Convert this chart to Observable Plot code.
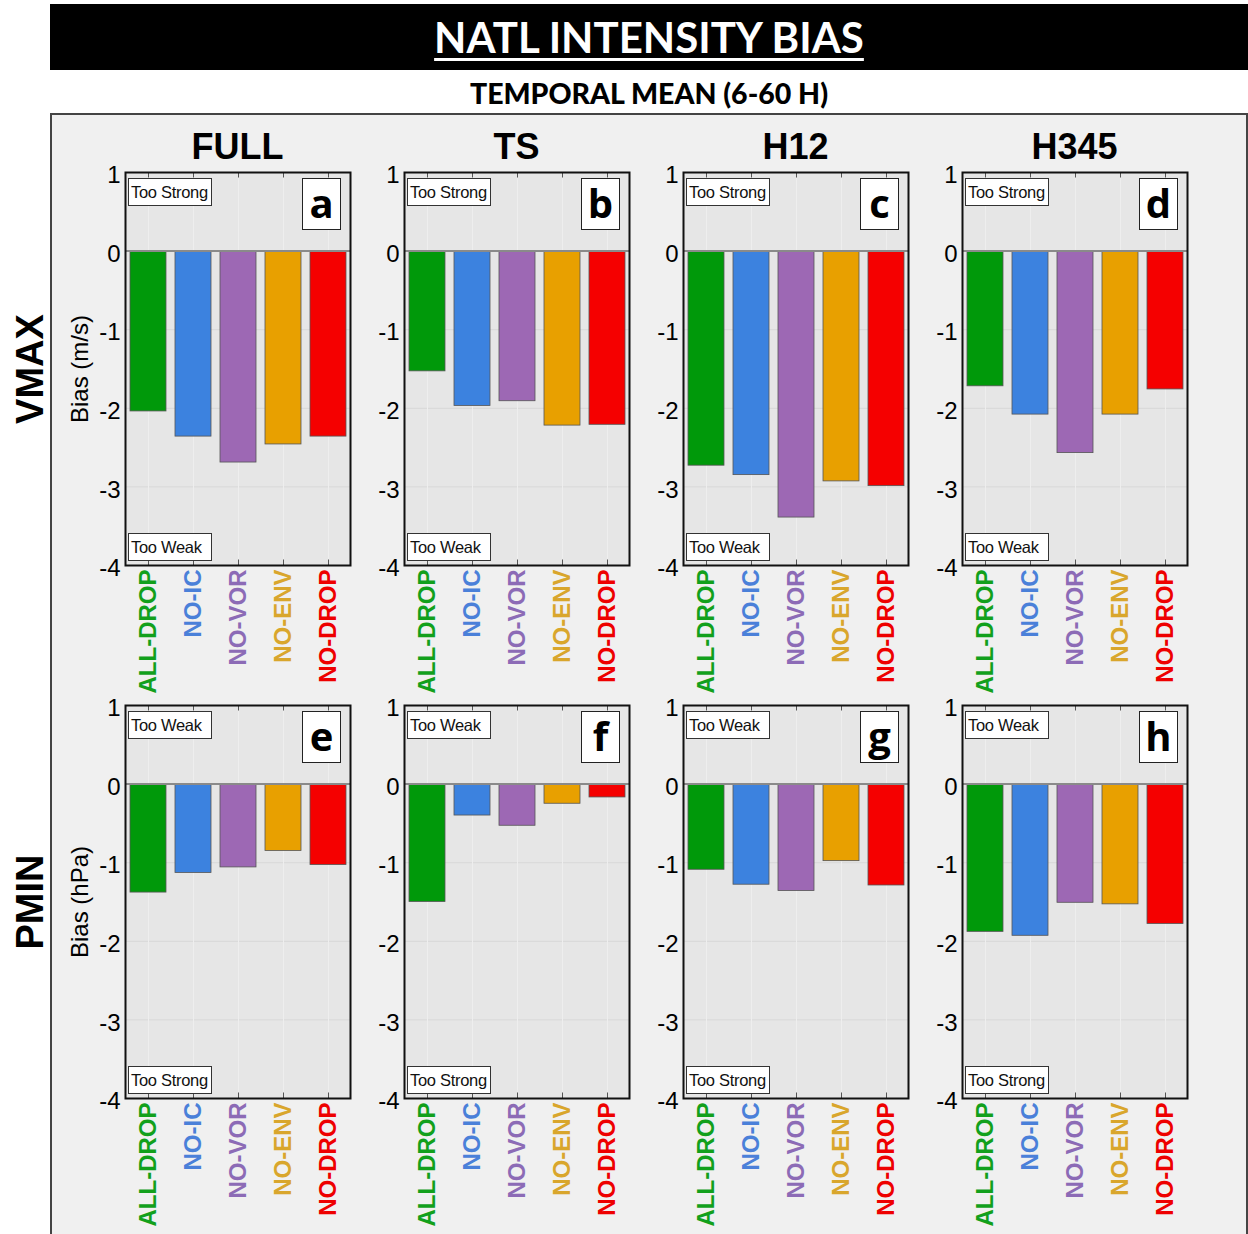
<!DOCTYPE html>
<html>
<head>
<meta charset="utf-8">
<script src="https://cdn.jsdelivr.net/npm/d3@7"></script>
<script src="https://cdn.jsdelivr.net/npm/@observablehq/plot@0.6"></script>
<style>
  body { margin:0; width:1248px; height:1234px; position:relative; overflow:hidden; background:#fff; font-family:"Liberation Sans", Arial, sans-serif; }
  #titlebar { position:absolute; left:50px; top:4px; width:1198px; height:66px; background:#000; color:#fff; text-align:center; font-family:Lato, "Open Sans", sans-serif; font-weight:bold; font-size:42px; line-height:66px; }
  #titlebar span { text-decoration:underline; text-decoration-thickness:3px; text-underline-offset:5px; }
  #subtitle { position:absolute; left:50px; width:1198px; top:76px; height:34px; text-align:center; font-family:Lato, "Open Sans", sans-serif; font-weight:900; font-size:28.5px; line-height:34px; color:#000; }
  #box { position:absolute; left:50px; top:113px; width:1194px; height:1140px; border:2px solid #444; background:#f0f0f0; }
  .colhead { position:absolute; width:220px; height:44px; line-height:44px; text-align:center; font-weight:bold; font-size:36px; color:#000; }
  .rowhead { position:absolute; width:300px; height:50px; line-height:50px; text-align:center; font-weight:bold; font-size:38px; color:#000; transform:rotate(-90deg); transform-origin:center center; }
  .panel { position:absolute; }
  .note { position:absolute; width:80px; height:26px; border:1.5px solid #333; background:#fff; font-size:16.5px; line-height:27px; padding-left:2px; color:#111; white-space:nowrap; overflow:hidden; letter-spacing:-0.3px; }
  .letter { position:absolute; width:37px; height:50px; border:1.5px solid #222; background:#fff; font-family:"Open Sans", Lato, sans-serif; font-weight:bold; font-size:40px; line-height:48px; text-align:center; color:#000; }
</style>
</head>
<body>
<div id="titlebar"><span>NATL INTENSITY BIAS</span></div>
<div id="subtitle">TEMPORAL MEAN (6-60 H)</div>
<div id="box"></div>
<script>
// ---------- data ----------
const columns = ["FULL", "TS", "H12", "H345"];
const rows = ["VMAX", "PMIN"];
const categories = ["ALL-DROP", "NO-IC", "NO-VOR", "NO-ENV", "NO-DROP"];
// VMAX bias (m/s) per column: FULL, TS, H12, H345
const vmaxFULL = [-2.04, -2.36, -2.69, -2.46, -2.36];
const vmaxTS   = [-1.53, -1.97, -1.91, -2.22, -2.21];
const vmaxH12  = [-2.73, -2.85, -3.39, -2.93, -2.99];
const vmaxH345 = [-1.72, -2.08, -2.57, -2.08, -1.76];
// PMIN bias (hPa) per column
const pminFULL = [-1.38, -1.13, -1.06, -0.85, -1.03];
const pminTS   = [-1.50, -0.40, -0.53, -0.25, -0.17];
const pminH12  = [-1.09, -1.28, -1.36, -0.98, -1.29];
const pminH345 = [-1.88, -1.93, -1.51, -1.53, -1.78];
const yTicks = [-4, -3, -2, -1, 0, 1];
const yLabels = ["Bias (m/s)", "Bias (hPa)"];
const panelLetters = [["a", "b", "c", "d"], ["e", "f", "g", "h"]];
const topNotes = ["Too Strong", "Too Weak"];
const bottomNotes = ["Too Weak", "Too Strong"];
const barColors = ["#00990a", "#3c82df", "#9d68b4", "#e8a000", "#f50000"];
const labelColors = ["#12a01c", "#4a80d9", "#8c6bb6", "#d9a62c", "#ee0000"];

const biasTable = [[vmaxFULL, vmaxTS, vmaxH12, vmaxH345], [pminFULL, pminTS, pminH12, pminH345]];

// ---------- layout ----------
const FW = 225, FH = 393;
const frameLeft = c => 125 + c * 279;
const frameTops = [172, 705];
const ML = 75, MR = 8, MT = 8, MB = 135;

columns.forEach((name, c) => {
  const d = document.createElement("div");
  d.className = "colhead";
  d.textContent = name;
  d.style.left = (frameLeft(c) + FW / 2 - 110) + "px";
  d.style.top = "125px";
  document.body.appendChild(d);
});
rows.forEach((name, r) => {
  const d = document.createElement("div");
  d.className = "rowhead";
  d.textContent = name;
  const cy = frameTops[r] + FH / 2;
  d.style.left = (30 - 150) + "px";
  d.style.top = (cy - 25) + "px";
  document.body.appendChild(d);
});

function makePanel(r, c) {
  const vals = biasTable[r][c];
  const data = categories.map((cat, i) => ({cat, val: vals[i], color: barColors[i], lcolor: labelColors[i]}));
  const marks = [
    Plot.frame({fill: "#e6e6e6"}),
    Plot.ruleY([-3, -2, -1], {stroke: "#d8d8d8"}),
    Plot.ruleX(categories, {x: d => d, stroke: "#eeeeee"}),
    Plot.barY(data, {x: "cat", y: "val", fill: "color", stroke: "#555", strokeWidth: 0.8}),
    Plot.ruleY([0], {stroke: "#8a8a8a", strokeWidth: 2}),
    Plot.ruleX(categories, {x: d => d, y1: 1, y2: 0.93, stroke: "#555"}),
    Plot.ruleX(categories, {x: d => d, y1: -4, y2: -3.93, stroke: "#555"}),
    Plot.frame({stroke: "#111", strokeWidth: 2}),
    Plot.axisY({ticks: yTicks, tickSize: 0, tickPadding: 5, fontSize: 24, dy: 3, tickFormat: d => String(d), label: null}),
    Plot.text(data, {x: "cat", frameAnchor: "bottom", text: "cat", rotate: -90, textAnchor: "end", lineAnchor: "middle", dy: 4, fill: "lcolor", fontSize: 24, fontWeight: "bold"})
  ];
  if (c === 0) marks.push(Plot.text([yLabels[r]], {frameAnchor: "left", rotate: -90, textAnchor: "middle", lineAnchor: "middle", dx: -45, fontSize: 24}));
  const svg = Plot.plot({
    width: ML + FW + MR, height: MT + FH + MB,
    marginLeft: ML, marginRight: MR, marginTop: MT, marginBottom: MB,
    x: {domain: categories, paddingInner: 0.2, paddingOuter: 0.1, axis: null},
    y: {domain: [-4, 1]},
    style: {background: "transparent", fontFamily: "'Liberation Sans', Arial, sans-serif", color: "black", overflow: "visible"},
    marks
  });
  const wrap = document.createElement("div");
  wrap.className = "panel";
  wrap.style.left = (frameLeft(c) - ML) + "px";
  wrap.style.top = (frameTops[r] - MT) + "px";
  wrap.appendChild(svg);
  const n1 = document.createElement("div");
  n1.className = "note"; n1.textContent = topNotes[r];
  n1.style.left = (ML + 3) + "px"; n1.style.top = (MT + 6) + "px";
  const n2 = document.createElement("div");
  n2.className = "note"; n2.textContent = bottomNotes[r];
  n2.style.left = (ML + 3) + "px"; n2.style.top = (MT + FH - 32) + "px";
  const lt = document.createElement("div");
  lt.className = "letter"; lt.textContent = panelLetters[r][c];
  lt.style.left = (ML + FW - 8 - 40) + "px"; lt.style.top = (MT + 6) + "px";
  wrap.appendChild(n1); wrap.appendChild(n2); wrap.appendChild(lt);
  document.body.appendChild(wrap);
}
rows.forEach((_, r) => columns.forEach((_, c) => makePanel(r, c)));
</script>
</body>
</html>
